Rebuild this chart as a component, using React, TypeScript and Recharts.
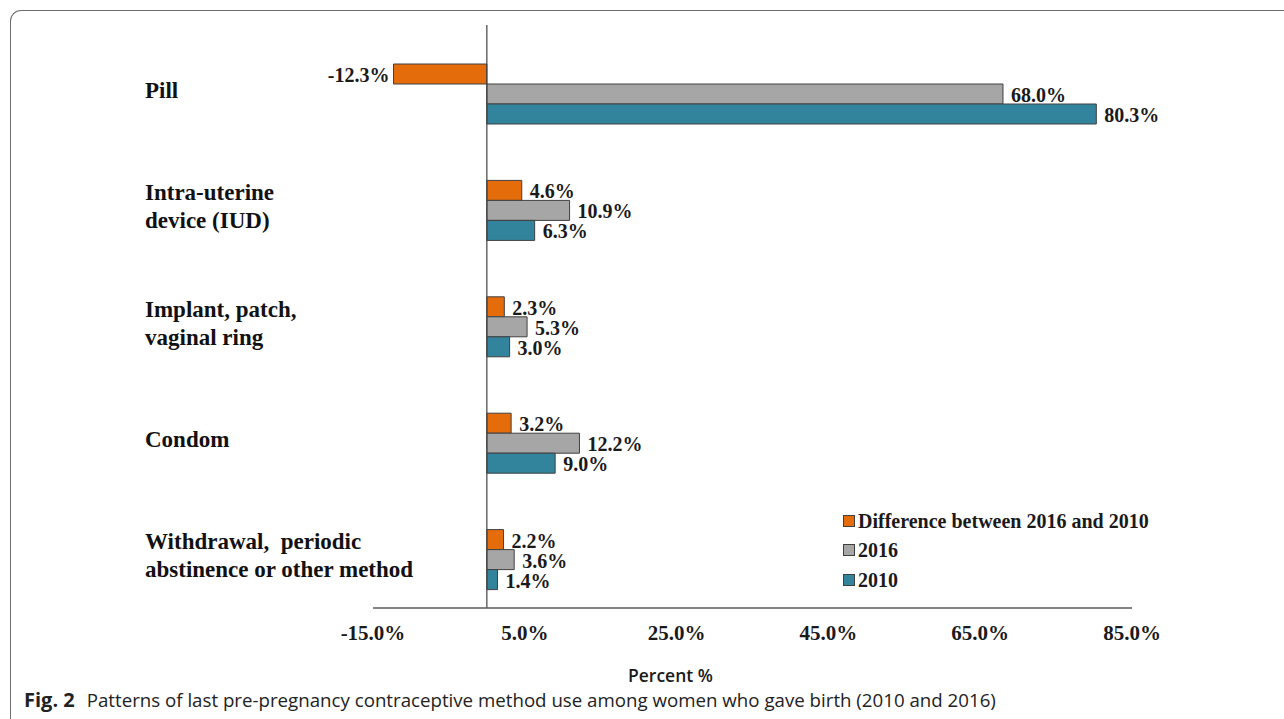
import React from "react";
import {
  BarChart,
  Bar,
  XAxis,
  YAxis,
  ReferenceLine,
  Legend,
  LabelList,
} from "recharts";

// values
const methods = [
  "Pill",
  "Intra-uterine\ndevice (IUD)",
  "Implant, patch,\nvaginal ring",
  "Condom",
  "Withdrawal,  periodic\nabstinence or other method",
];
const diffValues = [-12.3, 4.6, 2.3, 3.2, 2.2];
const values2016 = [68.0, 10.9, 5.3, 12.2, 3.6];
const values2010 = [80.3, 6.3, 3.0, 9.0, 1.4];
const seriesNames = ["Difference between 2016 and 2010", "2016", "2010"];
const xTicks = [-15, 5, 25, 45, 65, 85];

const data = methods.map((name, i) => ({
  name,
  diff: diffValues[i],
  y2016: values2016[i],
  y2010: values2010[i],
}));

const SERIF = "'Liberation Serif', 'Times New Roman', serif";
const SANS = "'Open Sans', 'Noto Sans', sans-serif";

const pct = (v: number) => `${v.toFixed(1)}%`;

function CategoryTick(props: any) {
  const { y, payload } = props;
  const lines = String(payload.value).split("\n");
  const lh = 28;
  const start = -((lines.length - 1) * lh) / 2 - 4;
  return (
    <text
      x={145}
      y={y}
      textAnchor="start"
      fontFamily={SERIF}
      fontWeight="bold"
      fontSize={23}
      fill="#111"
      style={{ whiteSpace: "pre" }}
    >
      {lines.map((l, i) => (
        <tspan key={i} x={145} dy={i === 0 ? start : lh} dominantBaseline="central">
          {l}
        </tspan>
      ))}
    </text>
  );
}

function BarValue(props: any) {
  const { x, y, width, height, value } = props;
  const left = Math.min(x, x + width);
  const right = Math.max(x, x + width);
  const neg = value < 0;
  return (
    <text
      x={neg ? left - 4 : right + 8}
      y={y + height / 2 + 1}
      textAnchor={neg ? "end" : "start"}
      dominantBaseline="central"
      fontFamily={SERIF}
      fontWeight="bold"
      fontSize={20}
      fill="#1a1a1a"
    >
      {pct(value)}
    </text>
  );
}

function LegendBox(props: any) {
  const items = [...(props.payload || [])].sort(
    (a: any, b: any) => seriesNames.indexOf(a.value) - seriesNames.indexOf(b.value)
  );
  return (
    <div>
      {items.map((p: any) => (
        <div
          key={p.value}
          style={{ display: "flex", alignItems: "center", height: 29.5 }}
        >
          <span
            style={{
              width: 10,
              height: 10,
              background: p.color,
              border: "1px solid #404040",
              marginRight: 3,
            }}
          />
          <span
            style={{
              fontFamily: SERIF,
              fontWeight: "bold",
              fontSize: 20,
              color: "#1a1a1a",
              lineHeight: "20px",
            }}
          >
            {p.value}
          </span>
        </div>
      ))}
    </div>
  );
}

export default function App() {
  return (
    <div
      style={{
        position: "absolute",
        left: 0,
        top: 0,
        width: 1284,
        height: 719,
        background: "#fff",
        overflow: "hidden",
      }}
    >
      <div
        style={{
          position: "absolute",
          left: 10,
          top: 10,
          width: 1300,
          height: 760,
          borderTop: "1.5px solid #6e6e6e",
          borderLeft: "1.5px solid #6e6e6e",
          borderTopLeftRadius: 11,
        }}
      />
      <BarChart
        width={1284}
        height={719}
        data={data}
        layout="vertical"
        margin={{ top: 25, right: 152, bottom: 81, left: 140 }}
        barSize={20}
        barGap={0}
      >
        <XAxis
          type="number"
          domain={[-15, 85]}
          ticks={xTicks}
          tickFormatter={pct}
          axisLine={{ stroke: "#595959", strokeWidth: 1.5 }}
          tickLine={false}
          tickMargin={11}
          height={30}
          tick={{
            fontFamily: SERIF,
            fontWeight: "bold",
            fontSize: 21,
            fill: "#1a1a1a",
          }}
        />
        <YAxis
          type="category"
          dataKey="name"
          width={233}
          axisLine={false}
          tickLine={false}
          padding={{ top: 11, bottom: -10 }}
          tick={<CategoryTick />}
        />
        <ReferenceLine x={0} stroke="#404040" strokeWidth={1.2} />
        <Legend
          layout="horizontal"
          verticalAlign="middle"
          align="center"
          content={<LegendBox />}
          wrapperStyle={{ left: 843, top: 506, width: 360 }}
        />
        <Bar
          dataKey="diff"
          name={seriesNames[0]}
          fill="#E46C0A"
          stroke="#404040"
          strokeWidth={1}
          isAnimationActive={false}
        >
          <LabelList dataKey="diff" content={<BarValue />} />
        </Bar>
        <Bar
          dataKey="y2016"
          name={seriesNames[1]}
          fill="#A6A6A6"
          stroke="#404040"
          strokeWidth={1}
          isAnimationActive={false}
        >
          <LabelList dataKey="y2016" content={<BarValue />} />
        </Bar>
        <Bar
          dataKey="y2010"
          name={seriesNames[2]}
          fill="#31849B"
          stroke="#404040"
          strokeWidth={1}
          isAnimationActive={false}
        >
          <LabelList dataKey="y2010" content={<BarValue />} />
        </Bar>
      </BarChart>
      <div
        style={{
          position: "absolute",
          left: 628,
          top: 663,
          fontFamily: SANS,
          fontWeight: 600,
          fontSize: 17.5,
          color: "#1a1a1a",
        }}
      >
        Percent %
      </div>
      <div
        style={{
          position: "absolute",
          left: 24,
          top: 688,
          fontFamily: SANS,
          fontSize: 18.7,
          color: "#222",
          whiteSpace: "nowrap",
          lineHeight: "24px",
        }}
      >
        <b style={{ fontSize: 20 }}>Fig. 2</b>
        <span style={{ marginLeft: 12 }}>
          Patterns of last pre-pregnancy contraceptive method use among women
          who gave birth (2010 and 2016)
        </span>
      </div>
    </div>
  );
}
